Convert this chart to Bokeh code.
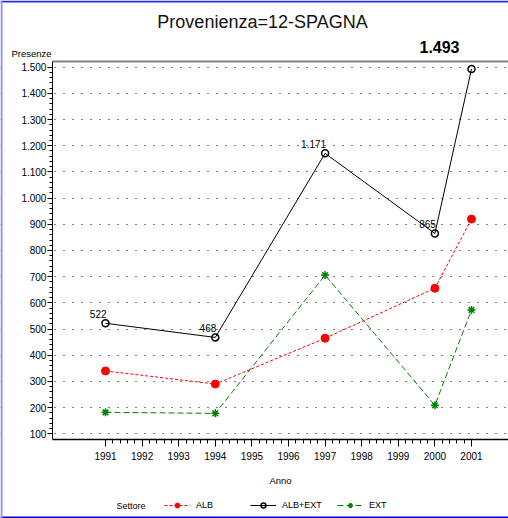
from bokeh.plotting import figure
from bokeh.models import (Range1d, FixedTicker, LinearAxis, Label, Legend, LegendItem,
                          ColumnDataSource, BoxAnnotation, CDSView, IndexFilter)
from bokeh.core.properties import value
from bokeh.embed import file_html
from bokeh.resources import INLINE

# ---- data ----
years = [1991, 1994, 1997, 2000, 2001]
alb = [340, 290, 465, 656, 920]
ext = [182, 178, 706, 209, 573]
alb_ext = [522, 468, 1171, 865, 1493]
x_ticks = list(range(1991, 2002))
y_ticks = list(range(100, 1600, 100))
series_names = ["ALB", "ALB+EXT", "EXT"]
title_text = "Provenienza=12-SPAGNA"
y_label = "Presenze"
x_label = "Anno"
legend_title = "Settore"


def it_fmt(v):
    return f"{v:,}".replace(",", ".")


FONT = "Liberation Sans"
W, H = 508, 518

# plot box (data) and full drawing area
X0, X1 = 1989.55, 2002.01
Y0, Y1 = 77, 1523
XR = (1988.131, 2002.011)
YR = (-223.5, 1754.7)

p = figure(width=W, height=H, x_range=Range1d(*XR), y_range=Range1d(*YR),
           output_backend="svg", toolbar_location=None, title=None,
           min_border_left=0, min_border_right=0, min_border_top=0, min_border_bottom=0,
           x_axis_location=None, y_axis_location=None)
p.outline_line_color = None
p.background_fill_color = "white"
p.border_fill_color = "white"

# x axis
xa = LinearAxis(fixed_location=Y0, bounds=(X0, X1))
xa.ticker = FixedTicker(ticks=x_ticks,
                        minor_ticks=[y + k / 5 for y in x_ticks[:-1] for k in range(1, 5)])
xa.axis_label = x_label
xa.axis_label_text_font = FONT
xa.axis_label_text_font_size = "9.5px"
xa.axis_label_text_font_style = "normal"
xa.axis_label_text_color = "black"
xa.axis_label_standoff = 12
xa.major_label_text_font = FONT
xa.major_label_text_font_size = "10px"
xa.major_label_text_color = "black"
xa.major_label_standoff = 5
xa.major_tick_out = 7
xa.major_tick_in = 0
xa.minor_tick_out = 4
xa.minor_tick_in = 0
xa.axis_line_width = 1.5
p.add_layout(xa, "below")

# y axis
ya = LinearAxis(fixed_location=X0, bounds=(Y0, Y1))
ya.ticker = FixedTicker(ticks=y_ticks,
                        minor_ticks=[y + k * 20 for y in y_ticks[:-1] for k in range(1, 5)])
ya.major_label_overrides = {v: it_fmt(v) for v in y_ticks}
ya.major_label_text_font = FONT
ya.major_label_text_font_size = "10px"
ya.major_label_text_color = "black"
ya.major_label_standoff = 1
ya.major_tick_out = 5
ya.major_tick_in = 0
ya.minor_tick_out = 3
ya.minor_tick_in = 0
p.add_layout(ya, "left")

# top border line
top = LinearAxis(fixed_location=Y1, bounds=(X0, X1), ticker=FixedTicker(ticks=[]),
                 major_tick_out=0, major_tick_in=0, minor_tick_out=0, minor_tick_in=0,
                 axis_line_color="#808080", axis_line_width=2,
                 major_label_text_font_size="0px")
p.add_layout(top, "above")

p.xgrid.visible = False
p.ygrid.ticker = FixedTicker(ticks=y_ticks)
p.ygrid.grid_line_color = "black"
p.ygrid.grid_line_dash = "1 8"
p.ygrid.grid_line_width = 1
# mask grid left of the plot box
p.add_layout(BoxAnnotation(right=X0, fill_color="white", fill_alpha=1, line_alpha=0,
                           level="underlay"))

src = ColumnDataSource(dict(year=years, alb=alb, ext=ext, tot=alb_ext,
                            lbl=[it_fmt(v) for v in alb_ext]))

r_alb_l = p.line("year", "alb", source=src, line_color="#FF0000", line_dash="3 2", line_width=1)
r_alb_p = p.scatter("year", "alb", source=src, marker="circle", size=8,
                    fill_color="#FF0000", line_color="#FF0000")
r_tot_l = p.line("year", "tot", source=src, line_color="black", line_width=1)
r_tot_p = p.scatter("year", "tot", source=src, marker="circle", size=7,
                    fill_color=None, line_color="black", line_width=1.5)
r_ext_l = p.line("year", "ext", source=src, line_color="#008000", line_dash="6 3", line_width=1)
r_ext_p = p.scatter("year", "ext", source=src, marker="asterisk", size=8,
                    line_color="#008000", line_width=1.5)

n = len(years)
p.text("year", "tot", text="lbl", source=src, view=CDSView(filter=IndexFilter(list(range(n - 1)))),
       text_align="right", text_baseline="bottom", x_offset=1, y_offset=-5,
       text_font=value(FONT), text_font_size="10px", text_color="black")
p.text("year", "tot", text="lbl", source=src, view=CDSView(filter=IndexFilter([n - 1])),
       text_align="center", text_baseline="middle", x_offset=-32, y_offset=-22,
       text_font=value(FONT), text_font_size="16px", text_font_style="bold", text_color="black")

# legends
legend_x = [164, 250, 337]
renderers = [[r_alb_l, r_alb_p], [r_tot_l, r_tot_p], [r_ext_l, r_ext_p]]
for name, rs, lx in zip(series_names, renderers, legend_x):
    lg = Legend(items=[LegendItem(label=name, renderers=rs)], location=(lx, 7),
                orientation="horizontal", glyph_width=26, glyph_height=12, label_height=12,
                label_standoff=6, padding=0, margin=0, spacing=0,
                border_line_alpha=0, background_fill_alpha=0,
                label_text_font=FONT, label_text_font_size="9px", label_text_color="black")
    p.add_layout(lg)

p.add_layout(Label(x=116, y=13, x_units="screen", y_units="screen", text=legend_title,
                   text_baseline="middle", text_font=FONT, text_font_size="9px",
                   text_color="black"))
p.add_layout(Label(x=11, y=465, x_units="screen", y_units="screen", text=y_label,
                   text_baseline="middle", text_font=FONT, text_font_size="9.5px",
                   text_color="black"))
p.add_layout(Label(x=262, y=497, x_units="screen", y_units="screen", text=title_text,
                   text_align="center", text_baseline="middle", text_font=FONT,
                   text_font_size="18px", text_color="#111111"))

# window frame lines
p.add_layout(BoxAnnotation(left=0, right=W, bottom=0, top=2,
                           left_units="screen", right_units="screen",
                           bottom_units="screen", top_units="screen",
                           fill_color="#0000CC", fill_alpha=1, line_alpha=0))
p.add_layout(BoxAnnotation(left=0, right=W, bottom=H - 2, top=H,
                           left_units="screen", right_units="screen",
                           bottom_units="screen", top_units="screen",
                           fill_color="#2A2AE8", fill_alpha=1, line_alpha=0))
p.add_layout(BoxAnnotation(left=0, right=2, bottom=0, top=H,
                           left_units="screen", right_units="screen",
                           bottom_units="screen", top_units="screen",
                           fill_color="#8C8CFF", fill_alpha=1, line_alpha=0))

open("out.html", "w").write(file_html(p, INLINE))
